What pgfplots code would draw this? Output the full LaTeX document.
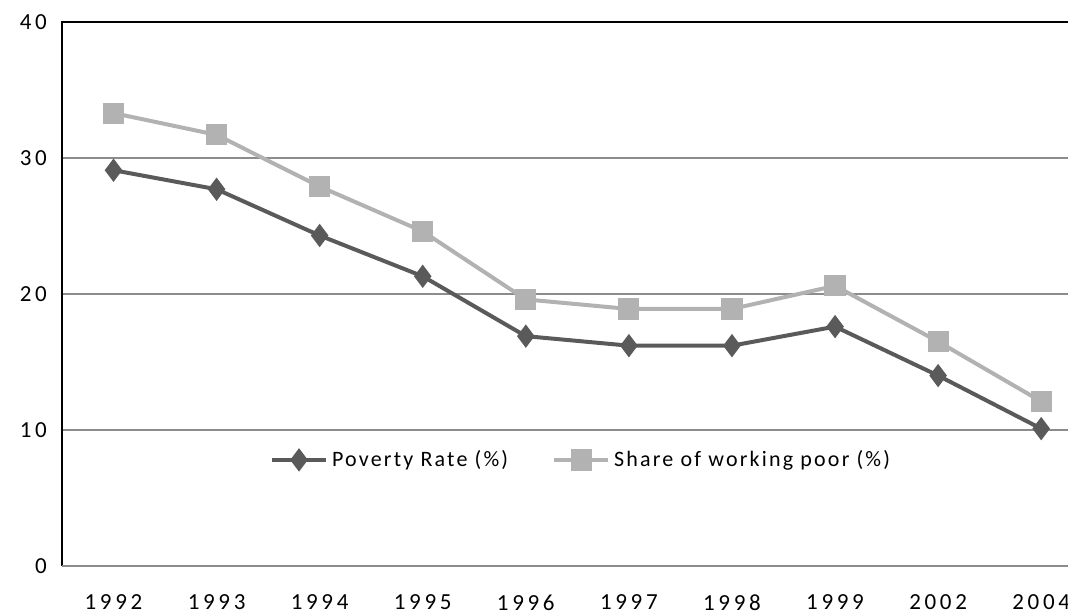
\documentclass[border=0pt]{standalone}
\usepackage{pgfplots}
\pgfplotsset{compat=1.18}
\usepackage{fontspec}
\setmainfont[LetterSpace=10]{Carlito}
\newfontfamily\tickfont[LetterSpace=16]{Carlito}

\definecolor{povcol}{RGB}{90,90,90}
\definecolor{wpcol}{RGB}{178,178,178}
\definecolor{gridcol}{RGB}{140,140,140}

\begin{document}
\begin{tikzpicture}
\begin{axis}[
    scale only axis,
    width=503pt, height=272pt,
    xmin=-0.5, xmax=9.26,
    ymin=0, ymax=40,
    ytick={0,10,20,30,40},
    xtick={0,...,9},
    xticklabels={1992,1993,1994,1995,1996,1997,1998,1999,2002,2004},
    major tick length=0pt,
    axis line style={draw=none},
    ymajorgrids=true,
    grid style={gridcol, line width=0.75pt},
    tick label style={font=\tickfont\fontsize{11.5}{13}\selectfont},
    /pgf/number format/assume math mode=true,
    yticklabel style={anchor=east, xshift=-4pt},
    xticklabel style={anchor=north, yshift=-11pt},
    legend style={draw=none, fill=none, at={(rel axis cs:0.517,0.195)}, anchor=center,
        legend columns=2, font=\fontsize{11}{13}\selectfont,
        /tikz/every even column/.append style={column sep=20pt}},
    legend image code/.code={\draw[mark repeat=2, mark phase=2, #1]
        plot coordinates {(0pt,0pt) (13.5pt,0pt) (27pt,0pt)};},
    legend image post style={line width=2pt},
    clip=false,
]
\addplot[povcol, line width=2pt, mark=diamond*, mark size=4.2pt, mark options={solid, fill=povcol}]
coordinates {(0,29.1) (1,27.7) (2,24.3) (3,21.3) (4,16.9) (5,16.2) (6,16.2) (7,17.6) (8,14.0) (9,10.1)};
\addlegendentry{Poverty Rate (\%)}
\addplot[wpcol, line width=2pt, mark=square*, mark size=4.3pt, mark options={solid, fill=wpcol}]
coordinates {(0,33.3) (1,31.7) (2,27.9) (3,24.6) (4,19.6) (5,18.9) (6,18.9) (7,20.6) (8,16.5) (9,12.1)};
\addlegendentry{Share of working poor (\%)}
\draw[black, line width=0.8pt] (rel axis cs:0,0) -- (rel axis cs:0,1) -- (rel axis cs:1,1);
\draw[gridcol, line width=1pt] (rel axis cs:0,0) -- (rel axis cs:1,0);
\coordinate (bl) at (rel axis cs:-0.0616,-0.0901);
\coordinate (tr) at (rel axis cs:1,1.0404);
\end{axis}
\pgfresetboundingbox
\useasboundingbox (bl) rectangle (tr);
\end{tikzpicture}
\end{document}
